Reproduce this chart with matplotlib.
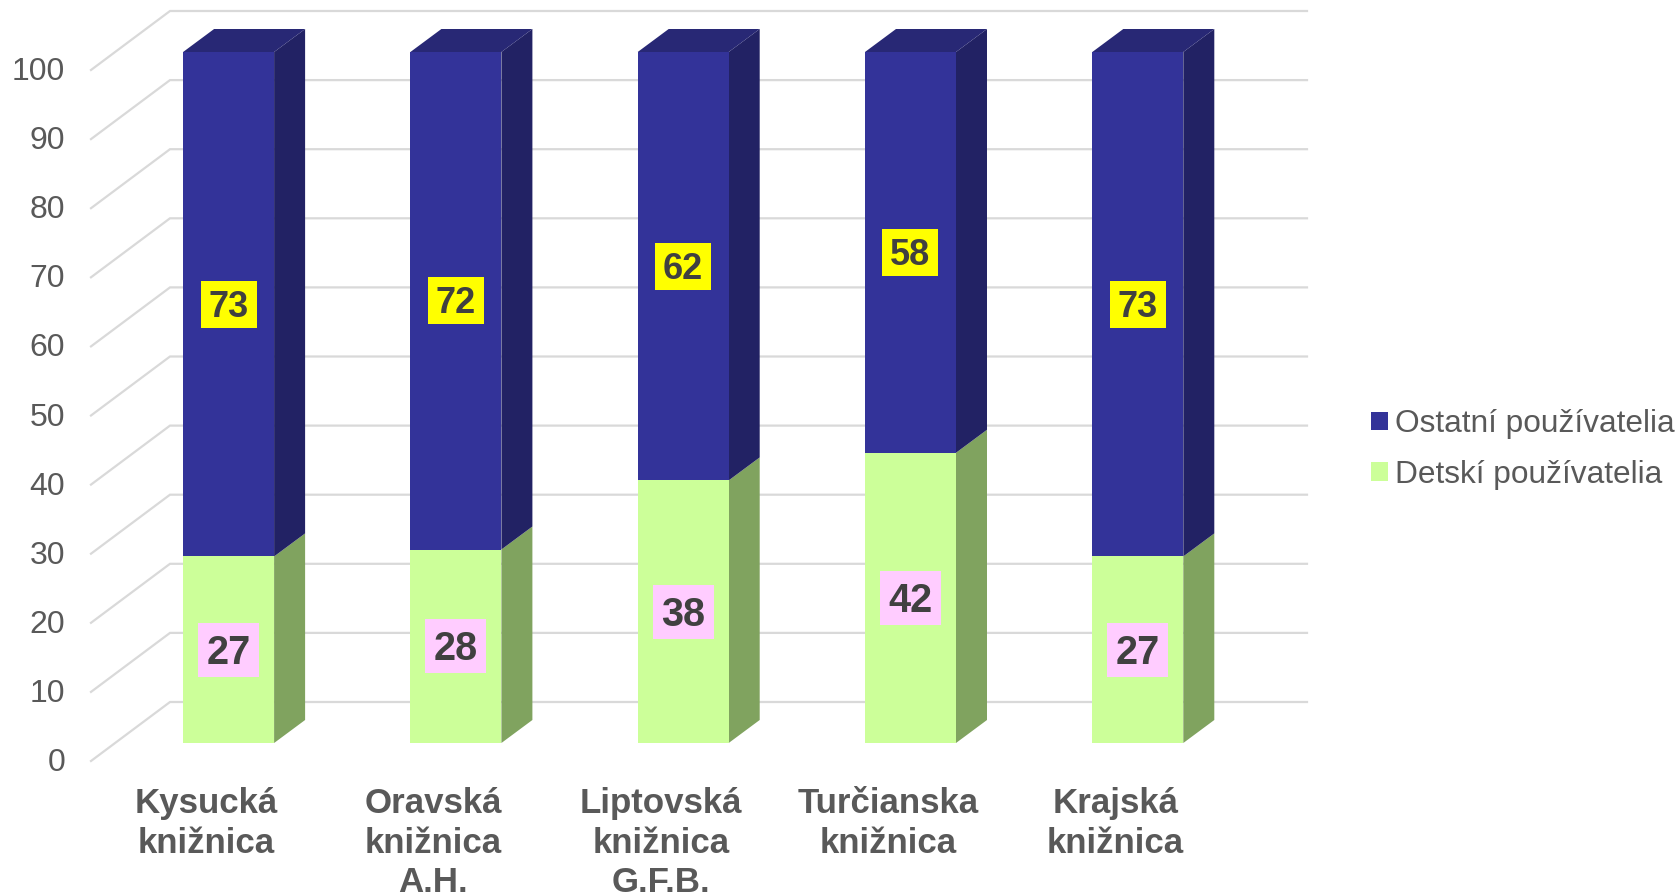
import numpy as np
import matplotlib
matplotlib.use("Agg")
import matplotlib.pyplot as plt
from matplotlib.patches import Polygon, Patch, Rectangle
from matplotlib.transforms import Affine2D

plt.rcParams['font.family'] = ['Liberation Sans', 'DejaVu Sans']

categories = ["Kysucká\nknižnica", "Oravská\nknižnica\nA.H.", "Liptovská\nknižnica\nG.F.B.",
              "Turčianska\nknižnica", "Krajská\nknižnica"]
children = [27, 28, 38, 42, 27]
others = [73, 72, 62, 58, 73]
y_ticks = list(range(0, 101, 10))
name_others = "Ostatní používatelia"
name_children = "Detskí používatelia"

W, H = 1681, 896
PX_X = 227.3   # pixels per category
PX_Y = 6.91    # pixels per value unit
ax_l, ax_r, ax_b, ax_t = 91, 1307, 761, 70

BAR_W = 91 / PX_X
DX, DY = 31 / PX_X, 23 / PX_Y           # bar depth
WX, WY = 79 / PX_X, 59 / PX_Y           # floor depth
FLOOR = 18 / PX_Y                       # bars stand forward of the axis front edge
LABEL_SHIFT = 22.5 / PX_X

GRID = "#d9d9d9"; TXT = "#595959"; LBL = "#404040"
BLUE, BLUE_S, BLUE_T = "#333399", "#222264", "#282875"
GREEN, GREEN_S = "#CCFF99", "#80A35F"

fig = plt.figure(figsize=(W / 100, H / 100), dpi=100, facecolor="white")
ax = fig.add_axes([ax_l / W, 1 - ax_b / H, (ax_r - ax_l) / W, (ax_b - ax_t) / H])
x0 = 228.6
ax.set_xlim((ax_l - x0) / PX_X, (ax_r - x0) / PX_X)
ax.set_ylim(0, 100)
for s in ax.spines.values():
    s.set_visible(False)
ax.patch.set_visible(False)

xmin, xmax = ax.get_xlim()
for v in y_ticks:
    ax.plot([xmin, xmin + WX, xmax], [v, v + WY, v + WY], color=GRID, lw=1.6,
            clip_on=False, zorder=1, solid_joinstyle="miter")

x = np.arange(len(categories), dtype=float)
for i, (c, o) in enumerate(zip(children, others)):
    r = x[i] + BAR_W / 2
    l = x[i] - BAR_W / 2
    base = FLOOR
    ax.add_patch(Polygon([(r, base), (r + DX, base + DY), (r + DX, base + DY + c), (r, base + c)],
                         fc=GREEN_S, ec="none", clip_on=False, zorder=2))
    ax.add_patch(Polygon([(r, base + c), (r + DX, base + c + DY), (r + DX, base + c + o + DY), (r, base + c + o)],
                         fc=BLUE_S, ec="none", clip_on=False, zorder=2))
    ax.add_patch(Polygon([(l, base + c + o), (l + DX, base + c + o + DY), (r + DX, base + c + o + DY), (r, base + c + o)],
                         fc=BLUE_T, ec="none", clip_on=False, zorder=2))

ax.bar(x, children, BAR_W, bottom=FLOOR, color=GREEN, clip_on=False, zorder=3)
ax.bar(x, others, BAR_W, bottom=FLOOR + np.array(children), color=BLUE, clip_on=False, zorder=3)


def label(xc, yc, val, size, face, bw, bh):
    ax.add_patch(Rectangle((xc - bw / 2 / PX_X, yc - bh / 2 / PX_Y), bw / PX_X, bh / PX_Y,
                           fc=face, ec="none", clip_on=False, zorder=4))
    ax.text(xc, yc - 3 / PX_Y, str(val), ha="center", va="center", fontsize=size,
            fontweight="bold", color=LBL, zorder=5, clip_on=False)


for i, (c, o) in enumerate(zip(children, others)):
    label(x[i], FLOOR + c / 2, c, 28.5, "#FFCCFF", 61, 54)
    label(x[i], FLOOR + c + o / 2, o, 26, "#FFFF00", 56, 47)

ax.set_yticks(y_ticks)
ax.set_yticklabels([str(v) for v in y_ticks], fontsize=23, color=TXT)
ax.tick_params(axis="y", length=0, pad=18.5)
lift = Affine2D().translate(0, 1.5)
for t in ax.get_yticklabels():
    t.set_transform(t.get_transform() + lift)
ax.set_xticks(x - LABEL_SHIFT)
ax.set_xticklabels(categories, fontsize=25.1, fontweight="bold", color=TXT, linespacing=1.24)
ax.tick_params(axis="x", length=0, pad=19)

handles = [Patch(fc=BLUE, ec="none", label=name_others), Patch(fc=GREEN, ec="none", label=name_children)]
ax.legend(handles=handles, loc="upper left", bbox_to_anchor=(1371.5 / W, 1 - 409 / H),
          bbox_transform=fig.transFigure, frameon=False, fontsize=22.8, labelcolor=TXT,
          handlelength=0.52, handleheight=0.52, handletextpad=0.22, labelspacing=0.66,
          borderaxespad=0, borderpad=0)

fig.savefig("out.png", dpi=100, facecolor="white")
